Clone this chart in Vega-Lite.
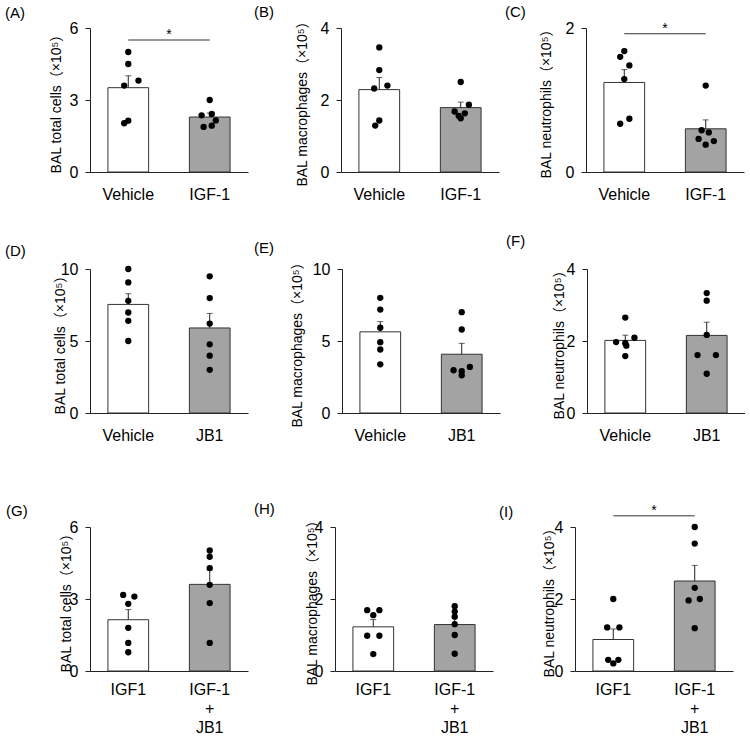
{
  "$schema": "https://vega.github.io/schema/vega-lite/v6.json",
  "padding": {"left": 5, "top": 4, "right": 0, "bottom": 0},
  "background": "white",
  "datasets": {
    "cells": [
      {"panel": "A", "group": "Vehicle", "value": 5.0, "lane": 0},
      {"panel": "A", "group": "Vehicle", "value": 4.5, "lane": 0},
      {"panel": "A", "group": "Vehicle", "value": 3.81, "lane": 0.5},
      {"panel": "A", "group": "Vehicle", "value": 3.6, "lane": -0.2},
      {"panel": "A", "group": "Vehicle", "value": 2.14, "lane": 0},
      {"panel": "A", "group": "Vehicle", "value": 2.03, "lane": -0.2},
      {"panel": "A", "group": "IGF-1", "value": 3.0, "lane": 0},
      {"panel": "A", "group": "IGF-1", "value": 2.42, "lane": 0.1},
      {"panel": "A", "group": "IGF-1", "value": 2.36, "lane": -0.4},
      {"panel": "A", "group": "IGF-1", "value": 2.15, "lane": 0.3},
      {"panel": "A", "group": "IGF-1", "value": 1.93, "lane": 0.1},
      {"panel": "A", "group": "IGF-1", "value": 1.88, "lane": -0.3},

      {"panel": "B", "group": "Vehicle", "value": 3.46, "lane": 0},
      {"panel": "B", "group": "Vehicle", "value": 2.83, "lane": 0},
      {"panel": "B", "group": "Vehicle", "value": 2.32, "lane": -0.25},
      {"panel": "B", "group": "Vehicle", "value": 2.4, "lane": 0.4},
      {"panel": "B", "group": "Vehicle", "value": 1.43, "lane": 0},
      {"panel": "B", "group": "Vehicle", "value": 1.29, "lane": -0.2},
      {"panel": "B", "group": "IGF-1", "value": 2.5, "lane": 0},
      {"panel": "B", "group": "IGF-1", "value": 1.87, "lane": 0.4},
      {"panel": "B", "group": "IGF-1", "value": 1.68, "lane": -0.3},
      {"panel": "B", "group": "IGF-1", "value": 1.63, "lane": 0.2},
      {"panel": "B", "group": "IGF-1", "value": 1.56, "lane": -0.1},
      {"panel": "B", "group": "IGF-1", "value": 1.49, "lane": 0},

      {"panel": "C", "group": "Vehicle", "value": 1.68, "lane": 0},
      {"panel": "C", "group": "Vehicle", "value": 1.6, "lane": -0.2},
      {"panel": "C", "group": "Vehicle", "value": 1.48, "lane": 0.25},
      {"panel": "C", "group": "Vehicle", "value": 1.29, "lane": 0},
      {"panel": "C", "group": "Vehicle", "value": 0.74, "lane": 0.25},
      {"panel": "C", "group": "Vehicle", "value": 0.67, "lane": -0.2},
      {"panel": "C", "group": "IGF-1", "value": 1.2, "lane": 0},
      {"panel": "C", "group": "IGF-1", "value": 0.58, "lane": -0.2},
      {"panel": "C", "group": "IGF-1", "value": 0.55, "lane": 0.15},
      {"panel": "C", "group": "IGF-1", "value": 0.46, "lane": -0.35},
      {"panel": "C", "group": "IGF-1", "value": 0.43, "lane": 0.4},
      {"panel": "C", "group": "IGF-1", "value": 0.38, "lane": 0},

      {"panel": "D", "group": "Vehicle", "value": 10.0, "lane": 0},
      {"panel": "D", "group": "Vehicle", "value": 9.07, "lane": 0},
      {"panel": "D", "group": "Vehicle", "value": 7.79, "lane": 0},
      {"panel": "D", "group": "Vehicle", "value": 6.98, "lane": 0},
      {"panel": "D", "group": "Vehicle", "value": 6.4, "lane": 0},
      {"panel": "D", "group": "Vehicle", "value": 5.0, "lane": 0},
      {"panel": "D", "group": "JB1", "value": 9.49, "lane": 0},
      {"panel": "D", "group": "JB1", "value": 7.98, "lane": 0},
      {"panel": "D", "group": "JB1", "value": 6.21, "lane": 0},
      {"panel": "D", "group": "JB1", "value": 4.77, "lane": 0},
      {"panel": "D", "group": "JB1", "value": 3.98, "lane": 0},
      {"panel": "D", "group": "JB1", "value": 3.0, "lane": 0},

      {"panel": "E", "group": "Vehicle", "value": 8.0, "lane": 0},
      {"panel": "E", "group": "Vehicle", "value": 7.18, "lane": 0},
      {"panel": "E", "group": "Vehicle", "value": 5.92, "lane": 0},
      {"panel": "E", "group": "Vehicle", "value": 4.92, "lane": 0},
      {"panel": "E", "group": "Vehicle", "value": 4.41, "lane": 0},
      {"panel": "E", "group": "Vehicle", "value": 3.38, "lane": 0},
      {"panel": "E", "group": "JB1", "value": 7.0, "lane": 0},
      {"panel": "E", "group": "JB1", "value": 5.8, "lane": 0},
      {"panel": "E", "group": "JB1", "value": 3.2, "lane": 0.4},
      {"panel": "E", "group": "JB1", "value": 2.97, "lane": -0.4},
      {"panel": "E", "group": "JB1", "value": 2.9, "lane": 0},
      {"panel": "E", "group": "JB1", "value": 2.62, "lane": 0},

      {"panel": "F", "group": "Vehicle", "value": 2.65, "lane": 0},
      {"panel": "F", "group": "Vehicle", "value": 2.09, "lane": 0.45},
      {"panel": "F", "group": "Vehicle", "value": 1.97, "lane": -0.45},
      {"panel": "F", "group": "Vehicle", "value": 1.94, "lane": 0},
      {"panel": "F", "group": "Vehicle", "value": 1.87, "lane": 0.05},
      {"panel": "F", "group": "Vehicle", "value": 1.58, "lane": 0},
      {"panel": "F", "group": "JB1", "value": 3.33, "lane": 0},
      {"panel": "F", "group": "JB1", "value": 3.12, "lane": 0},
      {"panel": "F", "group": "JB1", "value": 2.17, "lane": 0},
      {"panel": "F", "group": "JB1", "value": 1.61, "lane": -0.45},
      {"panel": "F", "group": "JB1", "value": 1.61, "lane": 0.45},
      {"panel": "F", "group": "JB1", "value": 1.09, "lane": 0},

      {"panel": "G", "group": "IGF1", "value": 3.17, "lane": -0.25},
      {"panel": "G", "group": "IGF1", "value": 3.1, "lane": 0.3},
      {"panel": "G", "group": "IGF1", "value": 2.8, "lane": 0},
      {"panel": "G", "group": "IGF1", "value": 1.8, "lane": 0},
      {"panel": "G", "group": "IGF1", "value": 1.17, "lane": 0},
      {"panel": "G", "group": "IGF1", "value": 0.78, "lane": 0},
      {"panel": "G", "group": "IGF-1+JB1", "value": 5.02, "lane": 0},
      {"panel": "G", "group": "IGF-1+JB1", "value": 4.76, "lane": 0},
      {"panel": "G", "group": "IGF-1+JB1", "value": 4.29, "lane": 0},
      {"panel": "G", "group": "IGF-1+JB1", "value": 3.59, "lane": 0},
      {"panel": "G", "group": "IGF-1+JB1", "value": 2.83, "lane": 0},
      {"panel": "G", "group": "IGF-1+JB1", "value": 1.17, "lane": 0},

      {"panel": "H", "group": "IGF1", "value": 1.69, "lane": -0.3},
      {"panel": "H", "group": "IGF1", "value": 1.69, "lane": 0.3},
      {"panel": "H", "group": "IGF1", "value": 1.55, "lane": 0},
      {"panel": "H", "group": "IGF1", "value": 0.98, "lane": -0.3},
      {"panel": "H", "group": "IGF1", "value": 0.98, "lane": 0.3},
      {"panel": "H", "group": "IGF1", "value": 0.47, "lane": 0},
      {"panel": "H", "group": "IGF-1+JB1", "value": 1.8, "lane": 0},
      {"panel": "H", "group": "IGF-1+JB1", "value": 1.65, "lane": 0},
      {"panel": "H", "group": "IGF-1+JB1", "value": 1.51, "lane": 0},
      {"panel": "H", "group": "IGF-1+JB1", "value": 1.3, "lane": 0},
      {"panel": "H", "group": "IGF-1+JB1", "value": 1.0, "lane": 0},
      {"panel": "H", "group": "IGF-1+JB1", "value": 0.48, "lane": 0},

      {"panel": "I", "group": "IGF1", "value": 2.0, "lane": 0},
      {"panel": "I", "group": "IGF1", "value": 1.21, "lane": -0.3},
      {"panel": "I", "group": "IGF1", "value": 1.21, "lane": 0.3},
      {"panel": "I", "group": "IGF1", "value": 0.31, "lane": -0.25},
      {"panel": "I", "group": "IGF1", "value": 0.31, "lane": 0.25},
      {"panel": "I", "group": "IGF1", "value": 0.21, "lane": 0},
      {"panel": "I", "group": "IGF-1+JB1", "value": 4.0, "lane": 0},
      {"panel": "I", "group": "IGF-1+JB1", "value": 3.54, "lane": 0},
      {"panel": "I", "group": "IGF-1+JB1", "value": 2.31, "lane": 0},
      {"panel": "I", "group": "IGF-1+JB1", "value": 1.96, "lane": -0.3},
      {"panel": "I", "group": "IGF-1+JB1", "value": 2.0, "lane": 0.25},
      {"panel": "I", "group": "IGF-1+JB1", "value": 1.19, "lane": 0}
    ],
    "sig": [
      {"panel": "A", "g1": "Vehicle", "g2": "IGF-1", "level": 5.5, "label": "*"},
      {"panel": "C", "g1": "Vehicle", "g2": "IGF-1", "level": 1.92, "label": "*"},
      {"panel": "I", "g1": "IGF1", "g2": "IGF-1+JB1", "level": 4.31, "label": "*"}
    ]
  },
  "vconcat": [
    {
      "vconcat": [
        {
          "hconcat": [
            {
              "title": {"text": "(A)", "dx": -85, "offset": -1},
              "width": 158, "height": 144,
              "data": {"name": "cells"},
              "transform": [{"filter": "datum.panel === 'A'"}],
              "encoding": {
                "x": {"field": "group", "type": "nominal", "scale": {"domain": ["Vehicle", "IGF-1"], "paddingInner": 0.5, "paddingOuter": 0.22}, "axis": {"title": null}},
                "y": {"field": "value", "type": "quantitative", "scale": {"domain": [0, 6]}, "axis": {"values": [0, 3, 6], "format": "d", "title": "BAL total cells（×10⁵）", "titleX": -27}}
              },
              "layer": [
                {"mark": {"type": "errorbar", "extent": "stderr", "ticks": {"size": 6}, "color": "#222", "thickness": 1}},
                {"mark": {"type": "bar", "stroke": "#333", "strokeWidth": 1}, "encoding": {"y": {"aggregate": "mean", "field": "value", "type": "quantitative"}, "fill": {"condition": {"test": "datum.group === 'Vehicle' || datum.group === 'IGF1'", "value": "#ffffff"}, "value": "#a3a3a3"}}},
                {"mark": {"type": "circle", "size": 40, "color": "#000", "opacity": 1}, "encoding": {"xOffset": {"field": "lane", "type": "quantitative", "scale": {"domain": [-1, 1]}}}},
                {"data": {"name": "sig"}, "transform": [{"filter": "datum.panel === 'A'"}], "mark": {"type": "rule", "stroke": "#333", "strokeWidth": 1}, "encoding": {"x": {"field": "g1", "type": "nominal", "bandPosition": 0.5}, "x2": {"field": "g2"}, "y": {"field": "level", "type": "quantitative"}}},
                {"data": {"name": "sig"}, "transform": [{"filter": "datum.panel === 'A'"}], "mark": {"type": "text", "baseline": "bottom", "fontSize": 14, "dy": 2}, "encoding": {"x": {"field": "g1", "type": "nominal", "bandPosition": 1.5}, "y": {"field": "level", "type": "quantitative"}, "text": {"field": "label"}}}
              ],
              "resolve": {"scale": {"xOffset": "independent"}}
            },
            {
              "title": {"text": "(B)", "dx": -87, "offset": -6},
              "width": 158, "height": 144,
              "data": {"name": "cells"},
              "transform": [{"filter": "datum.panel === 'B'"}],
              "encoding": {
                "x": {"field": "group", "type": "nominal", "scale": {"domain": ["Vehicle", "IGF-1"], "paddingInner": 0.5, "paddingOuter": 0.22}, "axis": {"title": null}},
                "y": {"field": "value", "type": "quantitative", "scale": {"domain": [0, 4]}, "axis": {"values": [0, 2, 4], "format": "d", "title": "BAL macrophages（×10⁵）", "titleX": -32}}
              },
              "layer": [
                {"mark": {"type": "errorbar", "extent": "stderr", "ticks": {"size": 6}, "color": "#222", "thickness": 1}},
                {"mark": {"type": "bar", "stroke": "#333", "strokeWidth": 1}, "encoding": {"y": {"aggregate": "mean", "field": "value", "type": "quantitative"}, "fill": {"condition": {"test": "datum.group === 'Vehicle' || datum.group === 'IGF1'", "value": "#ffffff"}, "value": "#a3a3a3"}}},
                {"mark": {"type": "circle", "size": 40, "color": "#000", "opacity": 1}, "encoding": {"xOffset": {"field": "lane", "type": "quantitative", "scale": {"domain": [-1, 1]}}}}
              ],
              "resolve": {"scale": {"xOffset": "independent"}}
            },
            {
              "title": {"text": "(C)", "dx": -81, "offset": 0},
              "width": 158, "height": 144,
              "data": {"name": "cells"},
              "transform": [{"filter": "datum.panel === 'C'"}],
              "encoding": {
                "x": {"field": "group", "type": "nominal", "scale": {"domain": ["Vehicle", "IGF-1"], "paddingInner": 0.5, "paddingOuter": 0.22}, "axis": {"title": null}},
                "y": {"field": "value", "type": "quantitative", "scale": {"domain": [0, 2]}, "axis": {"values": [0, 1, 2], "format": "d", "title": "BAL neutrophils（×10⁵）", "titleX": -33}}
              },
              "layer": [
                {"mark": {"type": "errorbar", "extent": "stderr", "ticks": {"size": 6}, "color": "#222", "thickness": 1}},
                {"mark": {"type": "bar", "stroke": "#333", "strokeWidth": 1}, "encoding": {"y": {"aggregate": "mean", "field": "value", "type": "quantitative"}, "fill": {"condition": {"test": "datum.group === 'Vehicle' || datum.group === 'IGF1'", "value": "#ffffff"}, "value": "#a3a3a3"}}},
                {"mark": {"type": "circle", "size": 40, "color": "#000", "opacity": 1}, "encoding": {"xOffset": {"field": "lane", "type": "quantitative", "scale": {"domain": [-1, 1]}}}},
                {"data": {"name": "sig"}, "transform": [{"filter": "datum.panel === 'C'"}], "mark": {"type": "rule", "stroke": "#333", "strokeWidth": 1}, "encoding": {"x": {"field": "g1", "type": "nominal", "bandPosition": 0.5}, "x2": {"field": "g2"}, "y": {"field": "level", "type": "quantitative"}}},
                {"data": {"name": "sig"}, "transform": [{"filter": "datum.panel === 'C'"}], "mark": {"type": "text", "baseline": "bottom", "fontSize": 14, "dy": 2}, "encoding": {"x": {"field": "g1", "type": "nominal", "bandPosition": 1.5}, "y": {"field": "level", "type": "quantitative"}, "text": {"field": "label"}}}
              ],
              "resolve": {"scale": {"xOffset": "independent"}}
            }
          ],
          "spacing": 6
        },
        {
          "hconcat": [
            {
              "title": {"text": "(D)", "dx": -85, "offset": 2},
              "width": 158, "height": 144,
              "data": {"name": "cells"},
              "transform": [{"filter": "datum.panel === 'D'"}],
              "encoding": {
                "x": {"field": "group", "type": "nominal", "scale": {"domain": ["Vehicle", "JB1"], "paddingInner": 0.5, "paddingOuter": 0.22}, "axis": {"title": null}},
                "y": {"field": "value", "type": "quantitative", "scale": {"domain": [0, 10]}, "axis": {"values": [0, 5, 10], "format": "d", "title": "BAL total cells（×10⁵）", "titleX": -23}}
              },
              "layer": [
                {"mark": {"type": "errorbar", "extent": "stderr", "ticks": {"size": 6}, "color": "#222", "thickness": 1}},
                {"mark": {"type": "bar", "stroke": "#333", "strokeWidth": 1}, "encoding": {"y": {"aggregate": "mean", "field": "value", "type": "quantitative"}, "fill": {"condition": {"test": "datum.group === 'Vehicle' || datum.group === 'IGF1'", "value": "#ffffff"}, "value": "#a3a3a3"}}},
                {"mark": {"type": "circle", "size": 40, "color": "#000", "opacity": 1}, "encoding": {"xOffset": {"field": "lane", "type": "quantitative", "scale": {"domain": [-1, 1]}}}}
              ],
              "resolve": {"scale": {"xOffset": "independent"}}
            },
            {
              "title": {"text": "(E)", "dx": -88, "offset": -1},
              "width": 158, "height": 144,
              "data": {"name": "cells"},
              "transform": [{"filter": "datum.panel === 'E'"}],
              "encoding": {
                "x": {"field": "group", "type": "nominal", "scale": {"domain": ["Vehicle", "JB1"], "paddingInner": 0.5, "paddingOuter": 0.22}, "axis": {"title": null}},
                "y": {"field": "value", "type": "quantitative", "scale": {"domain": [0, 10]}, "axis": {"values": [0, 5, 10], "format": "d", "title": "BAL macrophages（×10⁵）", "titleX": -38}}
              },
              "layer": [
                {"mark": {"type": "errorbar", "extent": "stderr", "ticks": {"size": 6}, "color": "#222", "thickness": 1}},
                {"mark": {"type": "bar", "stroke": "#333", "strokeWidth": 1}, "encoding": {"y": {"aggregate": "mean", "field": "value", "type": "quantitative"}, "fill": {"condition": {"test": "datum.group === 'Vehicle' || datum.group === 'IGF1'", "value": "#ffffff"}, "value": "#a3a3a3"}}},
                {"mark": {"type": "circle", "size": 40, "color": "#000", "opacity": 1}, "encoding": {"xOffset": {"field": "lane", "type": "quantitative", "scale": {"domain": [-1, 1]}}}}
              ],
              "resolve": {"scale": {"xOffset": "independent"}}
            },
            {
              "title": {"text": "(F)", "dx": -81, "offset": 12},
              "width": 158, "height": 144,
              "data": {"name": "cells"},
              "transform": [{"filter": "datum.panel === 'F'"}],
              "encoding": {
                "x": {"field": "group", "type": "nominal", "scale": {"domain": ["Vehicle", "JB1"], "paddingInner": 0.5, "paddingOuter": 0.22}, "axis": {"title": null}},
                "y": {"field": "value", "type": "quantitative", "scale": {"domain": [0, 4]}, "axis": {"values": [0, 2, 4], "format": "d", "title": "BAL neutrophils（×10⁵）", "titleX": -21}}
              },
              "layer": [
                {"mark": {"type": "errorbar", "extent": "stderr", "ticks": {"size": 6}, "color": "#222", "thickness": 1}},
                {"mark": {"type": "bar", "stroke": "#333", "strokeWidth": 1}, "encoding": {"y": {"aggregate": "mean", "field": "value", "type": "quantitative"}, "fill": {"condition": {"test": "datum.group === 'Vehicle' || datum.group === 'IGF1'", "value": "#ffffff"}, "value": "#a3a3a3"}}},
                {"mark": {"type": "circle", "size": 40, "color": "#000", "opacity": 1}, "encoding": {"xOffset": {"field": "lane", "type": "quantitative", "scale": {"domain": [-1, 1]}}}}
              ],
              "resolve": {"scale": {"xOffset": "independent"}}
            }
          ],
          "spacing": 6
        }
      ],
      "spacing": 32
    },
    {
      "hconcat": [
        {
          "title": {"text": "(G)", "dx": -84, "offset": 0},
          "width": 158, "height": 144,
          "data": {"name": "cells"},
          "transform": [{"filter": "datum.panel === 'G'"}],
          "encoding": {
            "x": {"field": "group", "type": "nominal", "scale": {"domain": ["IGF1", "IGF-1+JB1"], "paddingInner": 0.5, "paddingOuter": 0.22}, "axis": {"title": null, "labelPadding": 10, "labelExpr": "datum.value === 'IGF-1+JB1' ? ['IGF-1', '+', 'JB1'] : datum.value"}},
            "y": {"field": "value", "type": "quantitative", "scale": {"domain": [0, 6]}, "axis": {"values": [0, 3, 6], "format": "d", "title": "BAL total cells（×10⁵）", "titleX": -17}}
          },
          "layer": [
            {"mark": {"type": "errorbar", "extent": "stderr", "ticks": {"size": 6}, "color": "#222", "thickness": 1}},
            {"mark": {"type": "bar", "stroke": "#333", "strokeWidth": 1}, "encoding": {"y": {"aggregate": "mean", "field": "value", "type": "quantitative"}, "fill": {"condition": {"test": "datum.group === 'Vehicle' || datum.group === 'IGF1'", "value": "#ffffff"}, "value": "#a3a3a3"}}},
            {"mark": {"type": "circle", "size": 40, "color": "#000", "opacity": 1}, "encoding": {"xOffset": {"field": "lane", "type": "quantitative", "scale": {"domain": [-1, 1]}}}}
          ],
          "resolve": {"scale": {"xOffset": "independent"}}
        },
        {
          "title": {"text": "(H)", "dx": -81, "offset": -4},
          "width": 158, "height": 144,
          "data": {"name": "cells"},
          "transform": [{"filter": "datum.panel === 'H'"}],
          "encoding": {
            "x": {"field": "group", "type": "nominal", "scale": {"domain": ["IGF1", "IGF-1+JB1"], "paddingInner": 0.5, "paddingOuter": 0.22}, "axis": {"title": null, "labelPadding": 10, "labelExpr": "datum.value === 'IGF-1+JB1' ? ['IGF-1', '+', 'JB1'] : datum.value"}},
            "y": {"field": "value", "type": "quantitative", "scale": {"domain": [0, 4]}, "axis": {"values": [0, 2, 4], "format": "d", "title": "BAL macrophages（×10⁵）", "titleX": -16}}
          },
          "layer": [
            {"mark": {"type": "errorbar", "extent": "stderr", "ticks": {"size": 6}, "color": "#222", "thickness": 1}},
            {"mark": {"type": "bar", "stroke": "#333", "strokeWidth": 1}, "encoding": {"y": {"aggregate": "mean", "field": "value", "type": "quantitative"}, "fill": {"condition": {"test": "datum.group === 'Vehicle' || datum.group === 'IGF1'", "value": "#ffffff"}, "value": "#a3a3a3"}}},
            {"mark": {"type": "circle", "size": 40, "color": "#000", "opacity": 1}, "encoding": {"xOffset": {"field": "lane", "type": "quantitative", "scale": {"domain": [-1, 1]}}}}
          ],
          "resolve": {"scale": {"xOffset": "independent"}}
        },
        {
          "title": {"text": "(I)", "dx": -76, "offset": -16},
          "width": 158, "height": 144,
          "data": {"name": "cells"},
          "transform": [{"filter": "datum.panel === 'I'"}],
          "encoding": {
            "x": {"field": "group", "type": "nominal", "scale": {"domain": ["IGF1", "IGF-1+JB1"], "paddingInner": 0.5, "paddingOuter": 0.22}, "axis": {"title": null, "labelPadding": 10, "labelExpr": "datum.value === 'IGF-1+JB1' ? ['IGF-1', '+', 'JB1'] : datum.value"}},
            "y": {"field": "value", "type": "quantitative", "scale": {"domain": [0, 4]}, "axis": {"values": [0, 2, 4], "format": "d", "title": "BAL neutrophils（×10⁵）", "titleX": -19}}
          },
          "layer": [
            {"mark": {"type": "errorbar", "extent": "stderr", "ticks": {"size": 6}, "color": "#222", "thickness": 1}},
            {"mark": {"type": "bar", "stroke": "#333", "strokeWidth": 1}, "encoding": {"y": {"aggregate": "mean", "field": "value", "type": "quantitative"}, "fill": {"condition": {"test": "datum.group === 'Vehicle' || datum.group === 'IGF1'", "value": "#ffffff"}, "value": "#a3a3a3"}}},
            {"mark": {"type": "circle", "size": 40, "color": "#000", "opacity": 1}, "encoding": {"xOffset": {"field": "lane", "type": "quantitative", "scale": {"domain": [-1, 1]}}}},
            {"data": {"name": "sig"}, "transform": [{"filter": "datum.panel === 'I'"}], "mark": {"type": "rule", "stroke": "#333", "strokeWidth": 1}, "encoding": {"x": {"field": "g1", "type": "nominal", "bandPosition": 0.5}, "x2": {"field": "g2"}, "y": {"field": "level", "type": "quantitative"}}},
            {"data": {"name": "sig"}, "transform": [{"filter": "datum.panel === 'I'"}], "mark": {"type": "text", "baseline": "bottom", "fontSize": 14, "dy": 2}, "encoding": {"x": {"field": "g1", "type": "nominal", "bandPosition": 1.5}, "y": {"field": "level", "type": "quantitative"}, "text": {"field": "label"}}}
          ],
          "resolve": {"scale": {"xOffset": "independent"}}
        }
      ],
      "spacing": 6
    }
  ],
  "spacing": 58,
  "config": {
    "font": "Liberation Sans",
    "view": {"stroke": null},
    "axis": {
      "grid": false,
      "domainColor": "#222",
      "tickColor": "#222",
      "labelColor": "#000",
      "labelFont": "Liberation Sans",
      "labelFontSize": 16,
      "titleFont": "Liberation Sans, Noto Sans CJK JP",
      "titleFontSize": 14,
      "titleFontWeight": "normal",
      "titleColor": "#000"
    },
    "axisX": {"ticks": false, "tickSize": 0, "labelPadding": 14, "labelAngle": 0, "labelLineHeight": 19},
    "axisY": {"tickSize": 5, "labelPadding": 7},
    "title": {"font": "Liberation Sans", "fontSize": 15, "fontWeight": "normal", "anchor": "start", "frame": "group", "color": "#000"}
  }
}
